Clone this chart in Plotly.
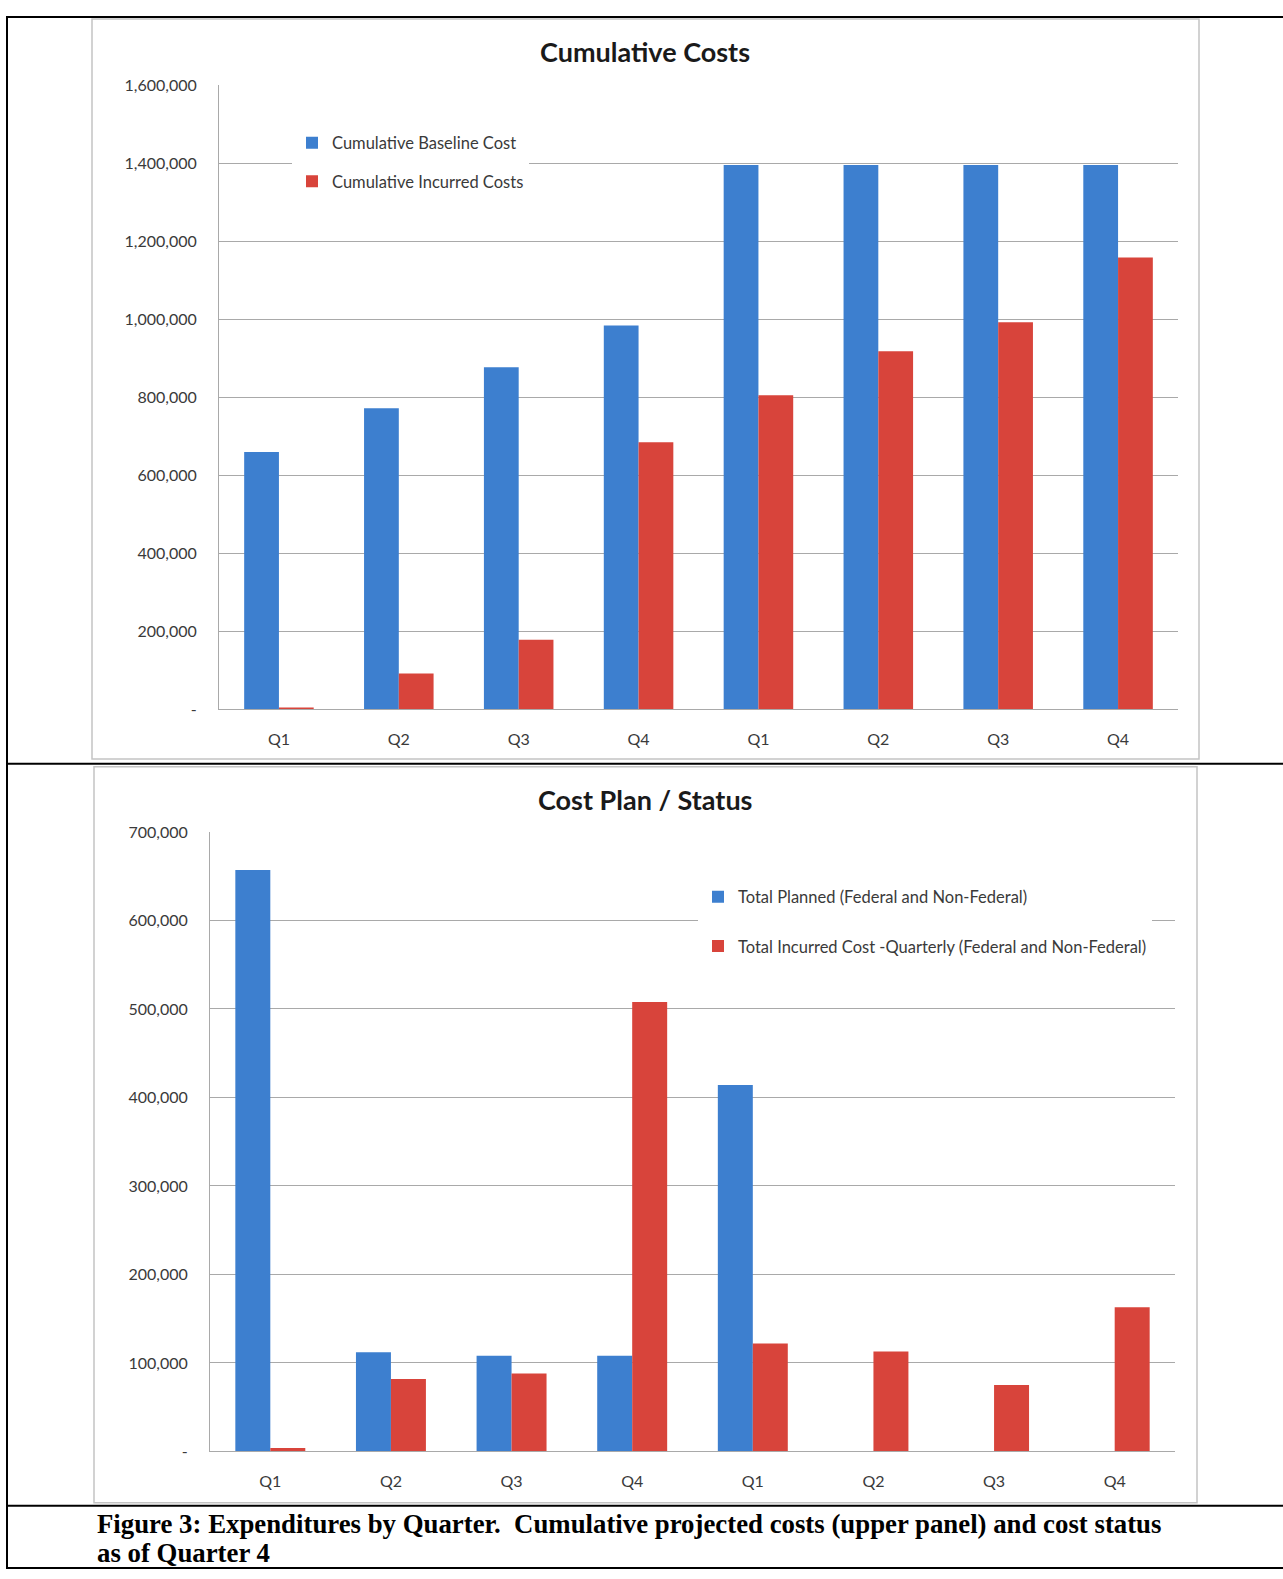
import plotly.graph_objects as go

W, H = 1283, 1579

quarters = ["Q1", "Q2", "Q3", "Q4", "Q1", "Q2", "Q3", "Q4"]

cum_baseline = [660000, 772000, 877000, 984000, 1395000, 1395000, 1395000, 1395000]
cum_incurred = [5000, 92000, 179000, 685000, 805000, 918000, 992000, 1158000]

total_planned = [657000, 112000, 108000, 108000, 414000, 0, 0, 0]
total_incurred_q = [4000, 82000, 88000, 508000, 122000, 113000, 75000, 163000]

top_yticks = [0, 200000, 400000, 600000, 800000, 1000000, 1200000, 1400000, 1600000]
bot_yticks = [0, 100000, 200000, 300000, 400000, 500000, 600000, 700000]

BLUE = "#3d7fcf"
RED = "#d8443b"
GRID = "#a9a9a9"
TXT = "#3a3a3a"
FONT = "Lato"


def fmt(v):
    return "-" if v == 0 else f"{v:,}"


def px_x(x):
    return x / W


def px_y(y):
    return 1 - y / H


xs = list(range(len(quarters)))

fig = go.Figure()

fig.add_trace(go.Bar(x=xs, y=cum_baseline, name="Cumulative Baseline Cost",
                     marker=dict(color=BLUE, line=dict(width=0)),
                     xaxis="x", yaxis="y", legend="legend", legendgroup="a"))
fig.add_trace(go.Bar(x=xs, y=cum_incurred, name="Cumulative Incurred Costs",
                     marker=dict(color=RED, line=dict(width=0)),
                     xaxis="x", yaxis="y", legend="legend", legendgroup="b"))
fig.add_trace(go.Bar(x=xs, y=total_planned, name="Total Planned (Federal and Non-Federal)",
                     marker=dict(color=BLUE, line=dict(width=0)),
                     xaxis="x2", yaxis="y2", legend="legend2", legendgroup="c"))
fig.add_trace(go.Bar(x=xs, y=total_incurred_q,
                     name="Total Incurred Cost -Quarterly (Federal and Non-Federal)",
                     marker=dict(color=RED, line=dict(width=0)),
                     xaxis="x2", yaxis="y2", legend="legend2", legendgroup="d"))

xaxis_common = dict(
    range=[-0.5, len(quarters) - 0.5], tickmode="array", tickvals=xs, ticktext=quarters,
    showgrid=False, zeroline=False, showline=True, linecolor=GRID, linewidth=1,
    ticks="", tickfont=dict(family=FONT, size=16, color=TXT), ticklabelstandoff=15,
    fixedrange=True,
)

yaxis_common = dict(
    showgrid=True, gridcolor=GRID, gridwidth=1, zeroline=False, showline=True,
    linecolor=GRID, linewidth=1, ticks="", tickfont=dict(family=FONT, size=16, color=TXT),
    ticklabelstandoff=18, fixedrange=True,
)

fig.update_layout(
    width=W, height=H, margin=dict(l=0, r=0, t=0, b=0),
    paper_bgcolor="white", plot_bgcolor="white",
    barmode="group", bargap=0.42, bargroupgap=0,
    xaxis=dict(domain=[px_x(219), px_x(1178)], anchor="y", **xaxis_common),
    yaxis=dict(domain=[px_y(708), px_y(76)], anchor="x", range=[0, 1600000],
               tickmode="array", tickvals=top_yticks,
               ticktext=[fmt(v) for v in top_yticks], **yaxis_common),
    xaxis2=dict(domain=[px_x(210), px_x(1175)], anchor="y2", **xaxis_common),
    yaxis2=dict(domain=[px_y(1459), px_y(832)], anchor="x2", range=[0, 700000],
                tickmode="array", tickvals=bot_yticks,
                ticktext=[fmt(v) for v in bot_yticks], **yaxis_common),
    legend=dict(x=px_x(292), y=px_y(117), xanchor="left", yanchor="top",
                bgcolor="white", borderwidth=0, tracegroupgap=14,
                font=dict(family=FONT, size=16.5, color=TXT), itemclick=False),
    legend2=dict(x=px_x(698), y=px_y(880), xanchor="left", yanchor="top",
                 bgcolor="white", borderwidth=0, tracegroupgap=25,
                 font=dict(family=FONT, size=16.5, color=TXT), itemclick=False),
    showlegend=True,
)

# chart titles
fig.add_annotation(text="<b>Cumulative Costs</b>", x=px_x(645), y=px_y(42),
                   xref="paper", yref="paper", yanchor="middle", showarrow=False,
                   font=dict(family=FONT, size=27, color="#1a1a1a"))
fig.add_annotation(text="<b>Cost Plan / Status</b>", x=px_x(645), y=px_y(799),
                   xref="paper", yref="paper", yanchor="middle", showarrow=False,
                   font=dict(family=FONT, size=27, color="#1a1a1a"))

# figure caption
caption_lines = [
    "Figure 3: Expenditures by Quarter.  Cumulative projected costs (upper panel) and cost status",
    "as of Quarter 4",
]
for i, line in enumerate(caption_lines):
    fig.add_annotation(text=f"<b>{line}</b>", x=px_x(95), y=px_y(1532 + 30 * i),
                       xref="paper", yref="paper", xanchor="left", yanchor="middle",
                       align="left", showarrow=False,
                       font=dict(family="Liberation Serif", size=26.8, color="black"))

shapes = []
# chart boxes
shapes.append(dict(type="rect", xref="paper", yref="paper",
                   x0=px_x(92), x1=px_x(1199), y0=px_y(758), y1=px_y(9),
                   line=dict(color="#c4c4c4", width=1.5), layer="below"))
shapes.append(dict(type="rect", xref="paper", yref="paper",
                   x0=px_x(94), x1=px_x(1197), y0=px_y(1511), y1=px_y(766),
                   line=dict(color="#c4c4c4", width=1.5), layer="below"))
# outer black frame
for y in (7, 763, 1514, 1577):
    shapes.append(dict(type="line", xref="paper", yref="paper",
                       x0=px_x(6), x1=1, y0=px_y(y), y1=px_y(y),
                       line=dict(color="black", width=2)))
shapes.append(dict(type="line", xref="paper", yref="paper",
                   x0=px_x(7), x1=px_x(7), y0=px_y(6), y1=px_y(1578),
                   line=dict(color="black", width=2)))
fig.update_layout(shapes=shapes)

fig.write_html("out.html")
